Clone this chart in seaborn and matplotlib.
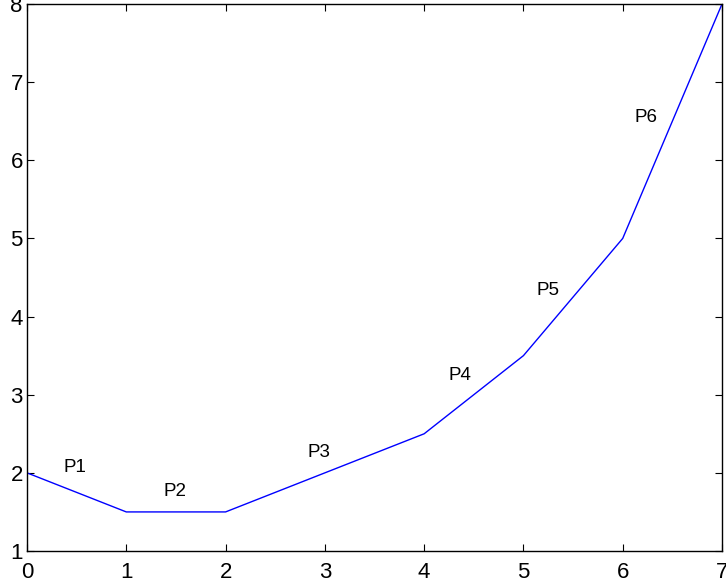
import matplotlib
matplotlib.use("Agg")
import matplotlib.pyplot as plt
import seaborn as sns

# data
x_vals = [0, 1, 2, 4, 5, 6, 7]
y_vals = [2, 1.5, 1.5, 2.5, 3.5, 5, 8]

label_names = ["P1", "P2", "P3", "P4", "P5", "P6"]
label_x = [0.48, 1.49, 2.94, 4.36, 5.25, 6.23]
label_y = [2.07, 1.76, 2.26, 3.24, 4.33, 6.55]

sns.set_style("ticks")
plt.rcParams['font.family'] = ['Liberation Sans', 'DejaVu Sans']
plt.rcParams['text.color'] = 'black'
plt.rcParams['xtick.color'] = 'black'
plt.rcParams['ytick.color'] = 'black'

fig = plt.figure(figsize=(7.26, 5.88), dpi=100)
ax = fig.add_axes([27 / 726, 1 - 551 / 588, 695 / 726, 547 / 588])

sns.lineplot(x=x_vals, y=y_vals, ax=ax, color="blue", linewidth=1.0, sort=False)

for name, lx, ly in zip(label_names, label_x, label_y):
    ax.text(lx, ly, name, fontsize=13.5, ha="center", va="center", color="black")

ax.set_xlim(0, 7)
ax.set_ylim(1, 8)
ax.set_xticks(range(0, 8))
ax.set_yticks(range(1, 9))
ax.tick_params(direction="in", top=True, right=True, length=5, width=0.8,
               labelsize=16, color="black", labelcolor="black")
ax.tick_params(axis="x", pad=8)
ax.tick_params(axis="y", pad=3)
for s in ax.spines.values():
    s.set_visible(True)
    s.set_linewidth(1.0)
    s.set_color("black")

fig.savefig("out.png", dpi=100)
